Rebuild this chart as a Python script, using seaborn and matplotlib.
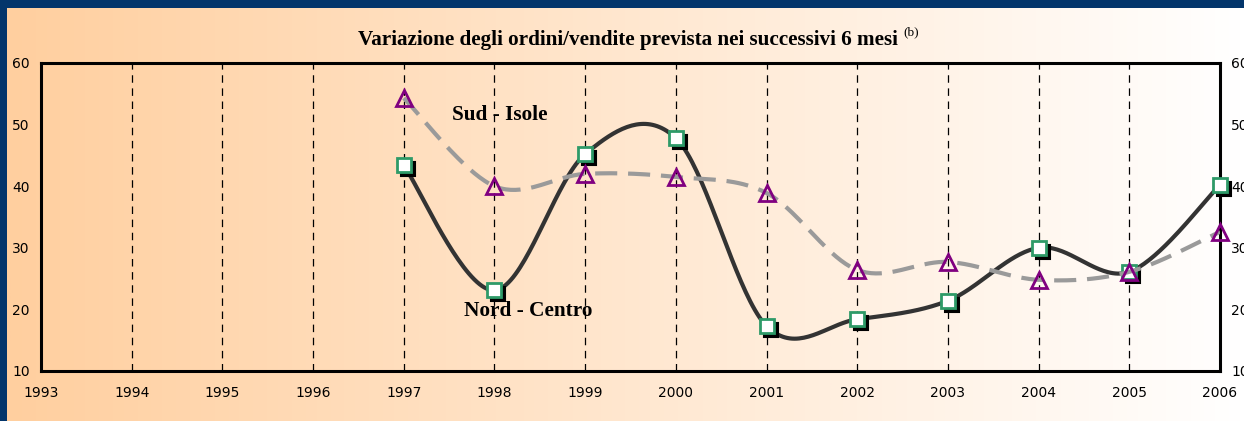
import numpy as np
import pandas as pd
import matplotlib
matplotlib.use("Agg")
import matplotlib.pyplot as plt
import matplotlib.transforms as mtransforms
from matplotlib.colors import LinearSegmentedColormap
import seaborn as sns

# ---- data ----
years = [1997, 1998, 1999, 2000, 2001, 2002, 2003, 2004, 2005, 2006]
nord_centro = [43.4, 23.1, 45.2, 47.8, 17.3, 18.4, 21.4, 30.0, 26.1, 40.2]
sud_isole = [54.3, 40.0, 42.0, 41.5, 38.9, 26.4, 27.7, 24.8, 26.1, 32.6]
x_ticks = list(range(1993, 2007))
y_ticks = [10, 20, 30, 40, 50, 60]
title = "Variazione degli ordini/vendite prevista nei successivi 6 mesi"


def smooth(x, y, n=40):
    """Excel-like smoothed line (cubic Bezier, Catmull-Rom control points)."""
    x = np.asarray(x, float)
    y = np.asarray(y, float)
    P = np.column_stack([x, y])
    out = []
    for i in range(len(P) - 1):
        p0 = P[i - 1] if i > 0 else P[i]
        p1 = P[i]
        p2 = P[i + 1]
        p3 = P[i + 2] if i + 2 < len(P) else P[i + 1]
        c1 = p1 + (p2 - p0) / 6.0
        c2 = p2 - (p3 - p1) / 6.0
        t = np.linspace(0, 1, n)[:, None]
        seg = ((1 - t) ** 3) * p1 + 3 * ((1 - t) ** 2) * t * c1 + 3 * (1 - t) * t ** 2 * c2 + t ** 3 * p2
        if i > 0:
            seg = seg[1:]
        out.append(seg)
    out = np.vstack(out)
    return out[:, 0], out[:, 1]


sns.set_style("white")
plt.rcParams["font.family"] = ["DejaVu Sans"]
plt.rcParams["text.color"] = "black"
plt.rcParams["mathtext.fontset"] = "custom"
plt.rcParams["mathtext.rm"] = "Liberation Serif"

W, H = 1244, 421
fig = plt.figure(figsize=(W / 100, H / 100), dpi=100, facecolor="#03356B")

# gradient background (inside the blue frame: top and left)
bg = fig.add_axes([7 / W, 0, 1 - 7 / W, 1 - 8 / H])
bg.set_axis_off()
cmap = LinearSegmentedColormap.from_list("g", ["#FFCF9F", "#FFFFFF"])
bg.imshow(np.linspace(0, 1, 512)[None, :], aspect="auto", cmap=cmap,
          extent=[0, 1, 0, 1])
bg.set_xlim(0, 1)
bg.set_ylim(0, 1)

ax = fig.add_axes([41 / W, (H - 371) / H, (1220 - 41) / W, (371 - 63) / H])
ax.set_facecolor("none")

# Nord - Centro: smooth solid line
xs, ys = smooth(years, nord_centro)
sns.lineplot(x=xs, y=ys, ax=ax, color="#333333", lw=3.0, sort=False,
             estimator=None, zorder=3)
# shadow squares
shadow = mtransforms.offset_copy(ax.transData, fig=fig, x=4, y=-4, units="dots")
ax.plot(years, nord_centro, linestyle="none", marker="s", ms=10.5,
        mfc="black", mec="black", mew=1.5, transform=shadow, zorder=4,
        clip_on=False)
ax.plot(years, nord_centro, linestyle="none", marker="s", ms=10.5,
        mfc="white", mec="#2E9A68", mew=2.0, zorder=5, clip_on=False)

# Sud - Isole: smooth dashed gray line
xs2, ys2 = smooth(years, sud_isole)
sns.lineplot(x=xs2, y=ys2, ax=ax, color="#9A9A9A", lw=3.0, sort=False,
             estimator=None, zorder=6, linestyle=(0, (5.3, 2.6)))
ax.plot(years, sud_isole, linestyle="none", marker="^", ms=11,
        mfc="none", mec="#800080", mew=2.0, zorder=7, clip_on=False)

ax.set_xlim(1993, 2006)
ax.set_ylim(10, 60)
ax.set_xticks(x_ticks)
ax.set_xticklabels([str(v) for v in x_ticks])
ax.set_yticks(y_ticks)
ax.tick_params(axis="x", length=0, pad=11, labelsize=10, labelcolor="black")
ax.tick_params(axis="y", length=0, pad=8, labelsize=10, labelcolor="black",
               left=False, right=False, labelleft=True, labelright=True)

ax.grid(axis="x", color="black", linestyle=(0, (6, 4.5)), lw=0.9)
ax.grid(axis="y", visible=False)
for s in ax.spines.values():
    s.set_visible(True)
    s.set_color("black")
    s.set_linewidth(2.2)

ax.text(1998.06, 51.6, "Sud - Isole", family="Liberation Serif", weight="bold",
        fontsize=15.3, ha="center", va="center", zorder=8, color="black")
ax.text(1998.37, 19.7, "Nord - Centro", family="Liberation Serif", weight="bold",
        fontsize=15.3, ha="center", va="center", zorder=8, color="black")

fig.text(628 / W, 1 - 40 / H, title, family="Liberation Serif",
         weight="bold", fontsize=15.2, ha="center", va="center", color="black")
fig.text(903 / W, 1 - 32 / H, "(b)", family="Liberation Serif",
         fontsize=9.5, ha="left", va="center", color="black")

fig.savefig("out.png", dpi=100, facecolor=fig.get_facecolor())
